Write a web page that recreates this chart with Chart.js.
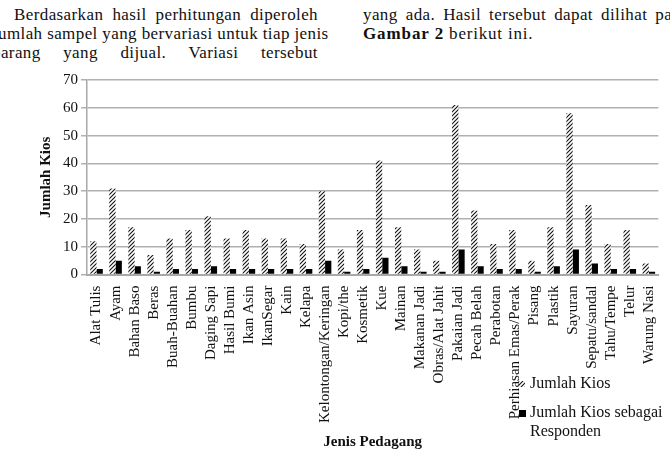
<!DOCTYPE html>
<html>
<head>
<meta charset="utf-8">
<script src="https://cdn.jsdelivr.net/npm/chart.js@4.4.1/dist/chart.umd.min.js"></script>
<style>
  html, body { margin: 0; padding: 0; background: #fff; }
  #wrap { position: relative; width: 670px; height: 451px; overflow: hidden; }
  #chart { position: absolute; left: 0; top: 0; }
  .line {
    position: absolute; white-space: nowrap;
    font-family: 'Liberation Serif', serif; font-size: 17px; line-height: 19px; color: #111;
    letter-spacing: 0.4px;
    text-align: justify; text-align-last: justify;
  }
  .line b { font-weight: bold; letter-spacing: 0.9px; }
</style>
</head>
<body>
<div id="wrap">
  <!-- potongan teks dokumen di atas gambar -->
  <div class="line" style="left:14px; top:5px; width:304px;">Berdasarkan hasil perhitungan diperoleh</div>
  <div class="line" style="left:-9px; top:24px; width:327px;">Jumlah sampel yang bervariasi untuk tiap jenis</div>
  <div class="line" style="left:-8px; top:43px; width:326px;">barang yang dijual. Variasi tersebut</div>
  <div class="line" style="left:363px; top:5px; width:326px;">yang ada. Hasil tersebut dapat dilihat pada</div>
  <div class="line" style="left:363px; top:24px; text-align:left; text-align-last:left; letter-spacing:0.8px;"><b>Gambar 2</b> berikut ini.</div>
  <canvas id="chart" width="670" height="451"></canvas>
</div>
<script>
// ============ data ============
const categories = [
  'Alat Tulis', 'Ayam', 'Bahan Baso', 'Beras', 'Buah-Buahan', 'Bumbu', 'Daging Sapi',
  'Hasil Bumi', 'Ikan Asin', 'IkanSegar', 'Kain', 'Kelapa', 'Kelontongan/Keringan',
  'Kopi/the', 'Kosmetik', 'Kue', 'Mainan', 'Makanan Jadi', 'Obras/Alat Jahit',
  'Pakaian Jadi', 'Pecah Belah', 'Perabotan', 'Perhiasan Emas/Perak', 'Pisang',
  'Plastik', 'Sayuran', 'Sepatu/sandal', 'Tahu/Tempe', 'Telur', 'Warung Nasi'
];
const jumlahKios = [12, 31, 17, 7, 13, 16, 21, 13, 16, 13, 13, 11, 30, 9, 16, 41, 17, 9, 5, 61, 23, 11, 16, 5, 17, 58, 25, 11, 16, 4];
const jumlahResponden = [2, 5, 3, 1, 2, 2, 3, 2, 2, 2, 2, 2, 5, 1, 2, 6, 3, 1, 1, 9, 3, 2, 2, 1, 3, 9, 4, 2, 2, 1];
const yTicks = [0, 10, 20, 30, 40, 50, 60, 70];

const FONT = "'Liberation Serif', serif";

// pola arsir diagonal
function makeHatch() {
  const c = document.createElement('canvas');
  c.width = 4; c.height = 4;
  const g = c.getContext('2d');
  g.fillStyle = '#fff';
  g.fillRect(0, 0, 4, 4);
  g.strokeStyle = '#111';
  g.lineWidth = 1.1;
  g.beginPath();
  g.moveTo(0, 4); g.lineTo(4, 0);
  g.moveTo(-1, 1); g.lineTo(1, -1);
  g.moveTo(3, 5); g.lineTo(5, 3);
  g.stroke();
  return document.getElementById('chart').getContext('2d').createPattern(c, 'repeat');
}
const hatch = makeHatch();

// legenda di pojok kanan bawah
const cornerLegend = {
  id: 'cornerLegend',
  afterDraw(chart) {
    const ctx = chart.ctx;
    const x = chart.width - 151;
    const y1 = chart.height - 67;
    const y2 = chart.height - 38;
    ctx.save();
    ctx.fillStyle = hatch;
    ctx.fillRect(x, y1 - 3, 6, 6);
    ctx.fillStyle = '#000';
    ctx.fillRect(x, y2 - 3, 7, 7);
    ctx.font = '16px ' + FONT;
    ctx.textBaseline = 'middle';
    ctx.fillStyle = '#111';
    ctx.fillText('Jumlah Kios', x + 11, y1);
    ctx.fillText('Jumlah Kios sebagai', x + 11, y2);
    ctx.fillText('Responden', x + 11, y2 + 19);
    ctx.restore();
  }
};

new Chart(document.getElementById('chart'), {
  type: 'bar',
  data: {
    labels: categories,
    datasets: [
      { label: 'Jumlah Kios', data: jumlahKios, backgroundColor: hatch, borderWidth: 0 },
      { label: 'Jumlah Kios sebagai Responden', data: jumlahResponden, backgroundColor: '#000', borderWidth: 0 }
    ]
  },
  options: {
    responsive: false,
    animation: false,
    categoryPercentage: 0.66,
    barPercentage: 1.0,
    layout: { padding: { top: 80, left: 37, right: 10, bottom: 0 } },
    plugins: {
      legend: { display: false },
      tooltip: { enabled: false }
    },
    scales: {
      x: {
        grid: { display: false },
        border: { display: true, color: '#a8a8a8', width: 2 },
        ticks: {
          color: '#111', font: { family: FONT, size: 15 },
          minRotation: 90, maxRotation: 90, autoSkip: false, padding: 3
        },
        title: {
          display: true, text: 'Jenis Pedagang', color: '#111',
          font: { family: FONT, size: 15, weight: 'bold' }, padding: { top: 7, bottom: 0 }
        }
      },
      y: {
        min: yTicks[0], max: yTicks[yTicks.length - 1],
        afterBuildTicks: axis => { axis.ticks = yTicks.map(v => ({ value: v })); },
        grid: { color: '#b0b0b0', lineWidth: 1.5, tickLength: 6 },
        border: { display: true, color: '#a8a8a8', width: 1.5 },
        ticks: { color: '#111', font: { family: FONT, size: 15 }, padding: 3 },
        title: {
          display: true, text: 'Jumlah Kios', color: '#111',
          font: { family: FONT, size: 15, weight: 'bold' }, padding: { top: 0, bottom: 5 }
        }
      }
    }
  },
  plugins: [cornerLegend]
});
</script>
</body>
</html>
